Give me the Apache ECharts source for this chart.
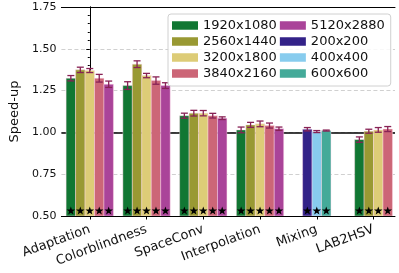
<!DOCTYPE html>
<html><head><meta charset="utf-8">
<script src="https://cdn.jsdelivr.net/npm/echarts@6/dist/echarts.min.js"></script>
<style>html,body{margin:0;padding:0;background:#fff}#c{width:399px;height:273px}</style>
</head><body><div id="c"></div>
<script>
const categories = ['Adaptation','Colorblindness','SpaceConv','Interpolation','Mixing','LAB2HSV'];
const resolutions = ['1920x1080','2560x1440','3200x1800','3840x2160','5120x2880','200x200','400x400','600x600'];
const colors = ['#117733','#999933','#DDCC77','#CC6677','#AA4499','#332288','#88CCEE','#44AA99'];
const yTicks = [0.5, 0.75, 1.0, 1.25, 1.5, 1.75];

const speedup1920 = [1.324, 1.280, 1.100, 1.015, null, 0.957];
const speedup2560 = [1.374, 1.408, 1.115, 1.045, null, 1.007];
const speedup3200 = [1.370, 1.340, 1.115, 1.051, null, 1.015];
const speedup3840 = [1.324, 1.310, 1.100, 1.041, null, 1.020];
const speedup5120 = [1.288, 1.280, 1.085, 1.022, null, null];
const speedup200  = [null, null, null, null, 1.019, null];
const speedup400  = [null, null, null, null, 1.005, null];
const speedup600  = [null, null, null, null, 1.011, null];

const err1920 = [0.016, 0.023, 0.015, 0.017, null, 0.016];
const err2560 = [0.016, 0.020, 0.017, 0.015, null, 0.012];
const err3200 = [0.012, 0.013, 0.016, 0.017, null, 0.014];
const err3840 = [0.023, 0.022, 0.014, 0.015, null, 0.015];
const err5120 = [0.019, 0.017, 0.008, 0.010, null, null];
const err200  = [null, null, null, null, 0.010, null];
const err400  = [null, null, null, null, 0.006, null];
const err600  = [null, null, null, null, 0.003, null];

const allValues = [speedup1920, speedup2560, speedup3200, speedup3840, speedup5120, speedup200, speedup400, speedup600];
const allErrs = [err1920, err2560, err3200, err3840, err5120, err200, err400, err600];

const BAR_W = 1/6;
const STAR_Y = 0.53;
const Y_MIN = 0.5, Y_MAX = 1.75;

// grouped layout: bars present in each category are centered on the category
const seriesData = resolutions.map(() => []);
categories.forEach((c, ci) => {
  const present = [];
  allValues.forEach((arr, si) => { if (arr[ci] != null) present.push(si); });
  const n = present.length;
  present.forEach((si, j) => {
    const x = ci + (j - (n - 1) / 2) * BAR_W;
    seriesData[si].push([x, allValues[si][ci], allErrs[si][ci]]);
  });
});

function starPoints(cx, cy, R) {
  const r = R * 0.4;
  const pts = [];
  for (let k = 0; k < 10; k++) {
    const a = -Math.PI / 2 + k * Math.PI / 5;
    const rad = k % 2 === 0 ? R : r;
    pts.push([cx + rad * Math.cos(a), cy + rad * Math.sin(a)]);
  }
  return pts;
}

function makeRender(color) {
  return function (params, api) {
    const x = api.value(0), v = api.value(1), e = api.value(2);
    const tl = api.coord([x - BAR_W / 2, v]);
    const br = api.coord([x + BAR_W / 2, Y_MIN]);
    const top = api.coord([x, v + e]);
    const bot = api.coord([x, v - e]);
    const star = api.coord([x, STAR_Y]);
    const cap = 3.5;
    const ecol = '#882255';
    return {
      type: 'group',
      children: [
        { type: 'rect', shape: { x: tl[0], y: tl[1], width: br[0] - tl[0], height: br[1] - tl[1] },
          style: { fill: color, stroke: 'rgba(255,215,235,0.55)', lineWidth: 0.8 } },
        { type: 'line', shape: { x1: top[0], y1: top[1], x2: bot[0], y2: bot[1] }, style: { stroke: ecol, lineWidth: 1.3 } },
        { type: 'line', shape: { x1: top[0] - cap, y1: top[1], x2: top[0] + cap, y2: top[1] }, style: { stroke: ecol, lineWidth: 1.3 } },
        { type: 'line', shape: { x1: bot[0] - cap, y1: bot[1], x2: bot[0] + cap, y2: bot[1] }, style: { stroke: ecol, lineWidth: 1.3 } },
        { type: 'polygon', shape: { points: starPoints(star[0], star[1], 4.5) }, style: { fill: '#000' } }
      ]
    };
  };
}

const FONT = 'DejaVu Sans';
const series = resolutions.map((name, si) => ({
  name: name,
  type: 'custom',
  renderItem: makeRender(colors[si]),
  itemStyle: { color: colors[si] },
  encode: { x: 0, y: 1 },
  data: seriesData[si],
  clip: true,
  z: 3
}));
series.push({
  type: 'line', name: 'ref', data: [], z: 1, silent: true,
  markLine: { silent: true, z: 1, symbol: 'none', label: { show: false },
    lineStyle: { color: '#000', type: 'solid', width: 1.5 },
    data: [{ yAxis: 1.0 }] }
});

const chart = echarts.init(document.getElementById('c'), null, { renderer: 'canvas' });
chart.setOption({
  animation: false,
  backgroundColor: '#fff',
  grid: { left: 52.5, right: 4, top: 7, bottom: 57 },
  legend: {
    data: resolutions,
    orient: 'vertical',
    left: 168, top: 14,
    height: 67,
    padding: [5, 6, 6, 4],
    itemGap: 3,
    itemWidth: 26, itemHeight: 8.5,
    icon: 'rect',
    backgroundColor: 'rgba(255,255,255,0.85)',
    borderColor: '#d0d0d0', borderWidth: 1, borderRadius: 3,
    textStyle: { fontFamily: FONT, fontSize: 13, color: '#111', lineHeight: 11 }
  },
  xAxis: [{
    type: 'value', min: -0.5, max: 5.378,
    axisLine: { show: true, onZero: false, lineStyle: { color: '#000', width: 1 } },
    axisTick: { show: true, customValues: categories.map((c, i) => i), length: 3.5, lineStyle: { color: '#000' } },
    axisLabel: { customValues: categories.map((c, i) => i), formatter: v => categories[Math.round(v)],
      rotate: 20, fontFamily: FONT, fontSize: 13, color: '#111', margin: 13 },
    splitLine: { show: false }
  }, {
    type: 'value', position: 'top', min: -0.5, max: 5.378,
    axisLine: { show: true, lineStyle: { color: '#000', width: 1 } },
    axisTick: { show: false }, axisLabel: { show: false }, splitLine: { show: false }
  }],
  yAxis: [{
    type: 'value', min: Y_MIN, max: Y_MAX, interval: 0.25,
    name: 'Speed-up', nameLocation: 'middle', nameGap: 37, nameRotate: 90,
    nameTextStyle: { fontFamily: FONT, fontSize: 13, color: '#111' },
    axisLine: { show: true, lineStyle: { color: '#000', width: 1 } },
    axisTick: { show: true, length: 3.5, lineStyle: { color: '#000' } },
    minorTick: { show: true, splitNumber: 5, length: 2, lineStyle: { color: '#000' } },
    axisLabel: { formatter: v => v.toFixed(2), fontFamily: FONT, fontSize: 11, color: '#111', margin: 5 },
    splitLine: { show: true, lineStyle: { color: '#c4c4c4', type: [4, 2.5], width: 0.8 } }
  }, {
    type: 'value', position: 'right', min: Y_MIN, max: Y_MAX,
    axisLine: { show: true, lineStyle: { color: '#000', width: 1 } },
    axisTick: { show: false }, axisLabel: { show: false }, splitLine: { show: false }
  }],
  series: series
});
</script></body></html>
